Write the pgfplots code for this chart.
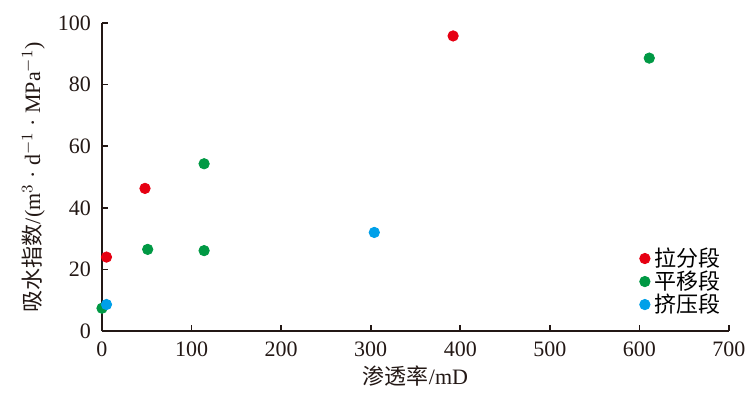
\documentclass[border=0pt]{standalone}
\usepackage{pgfplots}
\pgfplotsset{compat=1.18}
\usepackage{fontspec}
\setmainfont{Liberation Serif}
\newfontfamily\cjk{Noto Sans CJK SC}
\definecolor{cred}{HTML}{E60012}
\definecolor{cgreen}{HTML}{009944}
\definecolor{cblue}{HTML}{00A0E9}
\definecolor{axc}{HTML}{231815}
\begin{document}
\begin{tikzpicture}
\begin{axis}[
  at={(0,0)}, anchor=south west,
  scale only axis,
  width=313.5pt, height=154pt,
  xmin=0, xmax=700, ymin=0, ymax=100,
  xtick={0,100,...,700}, ytick={0,20,...,100},
  axis lines=left,
  axis line style={-, line width=1pt, color=axc},
  tick style={line width=0.8pt, color=axc},
  tick align=inside,
  major tick length=3pt,
  every tick label/.append style={font=\fontsize{11}{13}\selectfont, color=axc},
  /pgf/number format/assume math mode=true,
  xticklabel style={yshift=-2pt},
  yticklabel style={xshift=-2pt},
  xlabel={{\cjk 渗透率}/mD},
  ylabel={{\cjk 吸水指数}/(m$^{3}$ · d$^{-1}$ · MPa$^{-1}$)},
  label style={font=\fontsize{11}{13}\selectfont, color=axc},
  xlabel style={at={(0.5,0)}, anchor=north, yshift=-14pt},
  ylabel style={at={(0,0.5)}, anchor=south, yshift=25pt},
  legend style={at={(0.996,0.03)}, anchor=south east, draw=none, fill=none,
    font=\fontsize{11}{13}\selectfont\cjk, row sep=-3.3pt, inner sep=1pt},
  legend cell align=left,
  clip=false,
]
\addplot[only marks, mark=*, mark size=2.6pt, color=cred] coordinates {(5,24) (48,46.3) (392,95.8)};
\addlegendentry{拉分段}
\addplot[only marks, mark=*, mark size=2.6pt, color=cgreen] coordinates {(0,7.4) (51,26.5) (114,26.1) (114,54.3) (611,88.6)};
\addlegendentry{平移段}
\addplot[only marks, mark=*, mark size=2.6pt, color=cblue] coordinates {(5,8.6) (304,32)};
\addlegendentry{挤压段}
\end{axis}
\pgfresetboundingbox
\path[use as bounding box] (-51pt,-33.5pt) rectangle (326.5pt,165.5pt);
\end{tikzpicture}
\end{document}
